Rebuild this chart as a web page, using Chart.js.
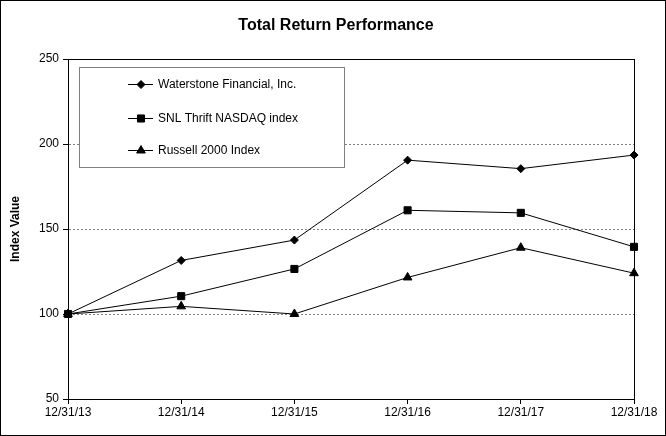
<!DOCTYPE html>
<html>
<head>
<meta charset="utf-8">
<script src="https://cdn.jsdelivr.net/npm/chart.js@4"></script>
<style>
  body { margin: 0; background: #fff; }
</style>
</head>
<body>
<canvas id="myChart" width="666" height="436"></canvas>
<script>
// data
const labels = ['12/31/13', '12/31/14', '12/31/15', '12/31/16', '12/31/17', '12/31/18'];
const waterstone = [100, 131.5, 143.5, 190.5, 185.5, 193.5];
const snlThrift = [100, 110.5, 126.5, 161, 159.5, 139.5];
const russell = [100, 104.5, 100, 121.5, 139, 124];
const seriesNames = ['Waterstone Financial, Inc.', 'SNL Thrift NASDAQ index', 'Russell 2000 Index'];
const chartTitle = 'Total Return Performance';

const ctx = document.getElementById('myChart');
const fontFam = '"Liberation Sans", Arial, sans-serif';

// title, frame, plot border and legend box
const extras = {
  id: 'extras',
  afterDraw(chart) {
    const c = chart.ctx;
    const a = chart.chartArea;
    c.save();
    c.strokeStyle = '#000';
    c.lineWidth = 1;
    c.strokeRect(Math.round(a.left) + 0.5, Math.round(a.top) + 0.5, Math.round(a.right - a.left), Math.round(a.bottom - a.top));
    c.strokeRect(0.5, 0.5, chart.width - 1, chart.height - 1);

    c.fillStyle = '#000';
    c.font = 'bold 16px ' + fontFam;
    c.textAlign = 'center';
    c.textBaseline = 'middle';
    c.fillText(chartTitle, 336, 26);

    // legend
    const bx = 79, by = 67, bw = 265, bh = 100;
    c.fillStyle = '#fff';
    c.fillRect(bx, by, bw, bh);
    c.strokeStyle = '#808080';
    c.strokeRect(bx + 0.5, by + 0.5, bw, bh);
    const rows = [84, 118, 150];
    chart.data.datasets.forEach((ds, i) => {
      const y = rows[i] + 0.5;
      c.strokeStyle = '#000';
      c.fillStyle = '#000';
      c.lineWidth = 1;
      c.beginPath();
      c.moveTo(128, y);
      c.lineTo(153, y);
      c.stroke();
      Chart.helpers.drawPoint(c, {pointStyle: ds.pointStyle, radius: ds.pointRadius, borderWidth: 1}, 141, y);
      c.fillStyle = '#000';
      c.font = '12px ' + fontFam;
      c.textBaseline = 'middle';
      c.textAlign = 'left';
      c.fillText(ds.label, 158, y);
    });
    c.restore();
  }
};

new Chart(ctx, {
  type: 'line',
  data: {
    labels: labels,
    datasets: [{
      label: seriesNames[0],
      data: waterstone,
      borderColor: '#000',
      backgroundColor: '#000',
      borderWidth: 1,
      pointStyle: 'rectRot',
      pointRadius: 4,
      pointBorderWidth: 1,
      tension: 0
    }, {
      label: seriesNames[1],
      data: snlThrift,
      borderColor: '#000',
      backgroundColor: '#000',
      borderWidth: 1,
      pointStyle: 'rect',
      pointRadius: 5,
      pointBorderWidth: 1,
      tension: 0
    }, {
      label: seriesNames[2],
      data: russell,
      borderColor: '#000',
      backgroundColor: '#000',
      borderWidth: 1,
      pointStyle: 'triangle',
      pointRadius: 5,
      pointBorderWidth: 1,
      tension: 0
    }]
  },
  options: {
    responsive: false,
    animation: false,
    layout: { padding: { left: 0, right: 32, top: 59, bottom: 0 } },
    plugins: {
      legend: { display: false },
      tooltip: { enabled: false },
      title: { display: false }
    },
    scales: {
      x: {
        offset: false,
        afterFit: (s) => { s.height = 37; },
        grid: { drawOnChartArea: false, tickLength: 5, tickColor: '#000' },
        border: { color: '#000' },
        ticks: {
          color: '#000',
          padding: 1,
          maxRotation: 0,
          font: { family: fontFam, size: 12 }
        }
      },
      y: {
        min: 50,
        max: 250,
        afterFit: (s) => { s.width = 68; },
        grid: {
          color: (c) => (c.tick && (c.tick.value === 50 || c.tick.value === 250)) ? 'rgba(0,0,0,0)' : '#808080',
          tickLength: 5,
          tickColor: '#000',
          tickBorderDash: []
        },
        border: { color: '#000', dash: [2, 2] },
        ticks: {
          stepSize: 50,
          color: '#000',
          padding: 4,
          font: { family: fontFam, size: 12 }
        },
        title: {
          display: true,
          text: 'Index Value',
          color: '#000',
          padding: { top: 8, bottom: 0 },
          font: { family: fontFam, size: 12, weight: 'bold' }
        }
      }
    }
  },
  plugins: [extras]
});
</script>
</body>
</html>
